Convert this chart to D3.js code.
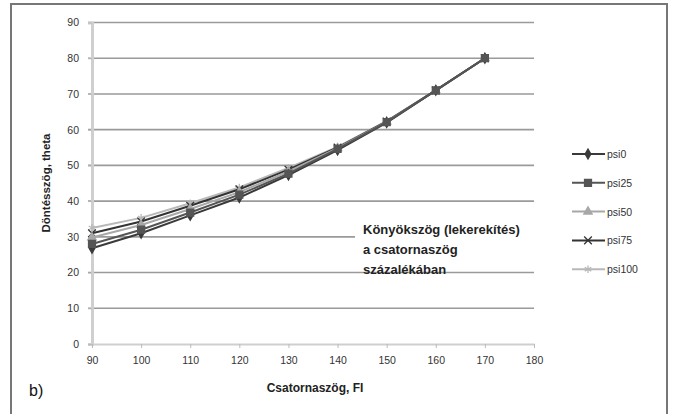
<!DOCTYPE html>
<html>
<head>
<meta charset="utf-8">
<script src="https://cdn.jsdelivr.net/npm/d3@7"></script>
<style>
  body { margin: 0; background: #fff; }
  text { font-family: "Liberation Sans", Arial, sans-serif; }
</style>
</head>
<body>
<script>
// ---------------------- DATA ----------------------
const xValues = [90, 100, 110, 120, 130, 140, 150, 160, 170];
const seriesNames = ["psi0", "psi25", "psi50", "psi75", "psi100"];
const psi0   = [26.8, 31.0, 36.0, 41.0, 47.3, 54.3, 62.0, 71.0, 80.0];
const psi25  = [28.0, 32.0, 36.8, 41.8, 47.7, 54.6, 62.1, 71.0, 80.0];
const psi50  = [29.8, 33.3, 37.8, 42.5, 48.3, 54.8, 62.2, 71.0, 80.0];
const psi75  = [31.0, 34.3, 38.7, 43.3, 48.8, 55.0, 62.3, 71.0, 80.0];
const psi100 = [32.5, 35.3, 39.4, 43.8, 49.3, 55.2, 62.4, 71.0, 80.0];
const xTicks = [90, 100, 110, 120, 130, 140, 150, 160, 170, 180];
const yTicks = [0, 10, 20, 30, 40, 50, 60, 70, 80, 90];
const noteLines = ["Könyökszög (lekerekítés)", "a csatornaszög", "százalékában"];

// ---------------------- STYLE PER SERIES ----------------------
const seriesData = [psi0, psi25, psi50, psi75, psi100];
const colors = ["#3a3a3a", "#555555", "#a8a8a8", "#333333", "#b8b8b8"];
const symbols = [d3.symbolDiamond, d3.symbolSquare, d3.symbolTriangle, d3.symbolTimes, d3.symbolAsterisk];
const symbolSizes = [28, 48, 30, 40, 40];
// stroke-only markers (x and star) are not filled
const symbolFill = [true, true, true, false, false];

const width = 673, height = 414;
const svg = d3.select("body").append("svg")
    .attr("width", width)
    .attr("height", height);

// outer frame
svg.append("rect")
    .attr("x", 11).attr("y", 4)
    .attr("width", 656).attr("height", 420)
    .attr("fill", "#fff")
    .attr("stroke", "#777").attr("stroke-width", 2);

const x = d3.scaleLinear().domain([90, 180]).range([92, 534]);
const y = d3.scaleLinear().domain([0, 90]).range([344, 22.5]);

// gridlines
svg.append("g")
    .selectAll("line")
    .data(yTicks.filter(v => v > 0))
    .enter().append("line")
    .attr("x1", x(90) - 4).attr("x2", x(180))
    .attr("y1", d => y(d)).attr("y2", d => y(d))
    .attr("stroke", "#9a9a9a").attr("stroke-width", 1.6);

// y axis
const yAxis = svg.append("g")
    .attr("transform", `translate(${x(90)},0)`)
    .call(d3.axisLeft(y).tickValues(yTicks).tickSize(4).tickPadding(9));
yAxis.select(".domain").attr("stroke", "#cfcfcf").attr("stroke-width", 3);
yAxis.selectAll(".tick line").attr("stroke", "#bbb");
yAxis.selectAll("text").attr("font-size", 10.5).attr("fill", "#333");

// x axis
const xAxis = svg.append("g")
    .attr("transform", `translate(0,${y(0)})`)
    .call(d3.axisBottom(x).tickValues(xTicks).tickSize(4).tickPadding(9).tickSizeOuter(0));
xAxis.select(".domain").attr("stroke", "#cfcfcf").attr("stroke-width", 2);
xAxis.selectAll(".tick line").attr("stroke", "#bbb");
xAxis.selectAll("text").attr("font-size", 10.5).attr("fill", "#333");

// axis titles
svg.append("text")
    .attr("x", 315).attr("y", 392)
    .attr("text-anchor", "middle")
    .attr("font-size", 12).attr("font-weight", "bold").attr("fill", "#222")
    .text("Csatornaszög, FI");

svg.append("text")
    .attr("transform", "translate(50,183) rotate(-90)")
    .attr("text-anchor", "middle")
    .attr("font-size", 11.5).attr("font-weight", "bold").attr("fill", "#222")
    .text("Döntésszög, theta");

// panel label
svg.append("text")
    .attr("x", 29).attr("y", 396)
    .attr("font-size", 16).attr("fill", "#111")
    .text("b)");

// note box (white background hides the gridline behind it)
svg.append("rect")
    .attr("x", 355).attr("y", 216)
    .attr("width", 202).attr("height", 46)
    .attr("fill", "#fff");

// series lines; psi25 drawn last so its square sits on top where they meet
const line = d3.line()
    .x((d, i) => x(xValues[i]))
    .y(d => y(d));

const order = [4, 3, 2, 0, 1];
order.forEach(k => {
    const g = svg.append("g");
    g.append("path")
        .datum(seriesData[k])
        .attr("fill", "none")
        .attr("stroke", colors[k])
        .attr("stroke-width", 2)
        .attr("d", line);
    g.selectAll("path.marker")
        .data(seriesData[k])
        .enter().append("path")
        .attr("class", "marker")
        .attr("transform", (d, i) => `translate(${x(xValues[i])},${y(d)})`)
        .attr("d", d3.symbol().type(symbols[k]).size(symbolSizes[k]))
        .attr("fill", symbolFill[k] ? colors[k] : "none")
        .attr("stroke", colors[k])
        .attr("stroke-width", 1.3);
});

// note text
svg.append("g")
    .selectAll("text")
    .data(noteLines)
    .enter().append("text")
    .attr("x", 363)
    .attr("y", (d, i) => 234 + i * 20)
    .attr("font-size", 13).attr("font-weight", "bold").attr("fill", "#222")
    .text(d => d);

// legend
const legend = svg.append("g")
    .selectAll("g")
    .data(seriesNames)
    .enter().append("g")
    .attr("transform", (d, i) => `translate(572,${154 + i * 28.8})`);

legend.append("line")
    .attr("x1", 0).attr("x2", 33)
    .attr("stroke", (d, i) => colors[i])
    .attr("stroke-width", 2);

legend.append("path")
    .attr("transform", "translate(16,0)")
    .attr("d", (d, i) => d3.symbol().type(symbols[i]).size(symbolSizes[i])())
    .attr("fill", (d, i) => symbolFill[i] ? colors[i] : "none")
    .attr("stroke", (d, i) => colors[i])
    .attr("stroke-width", 1.3);

legend.append("text")
    .attr("x", 35).attr("y", 4)
    .attr("font-size", 10.5).attr("fill", "#333")
    .text(d => d);
</script>
</body>
</html>
